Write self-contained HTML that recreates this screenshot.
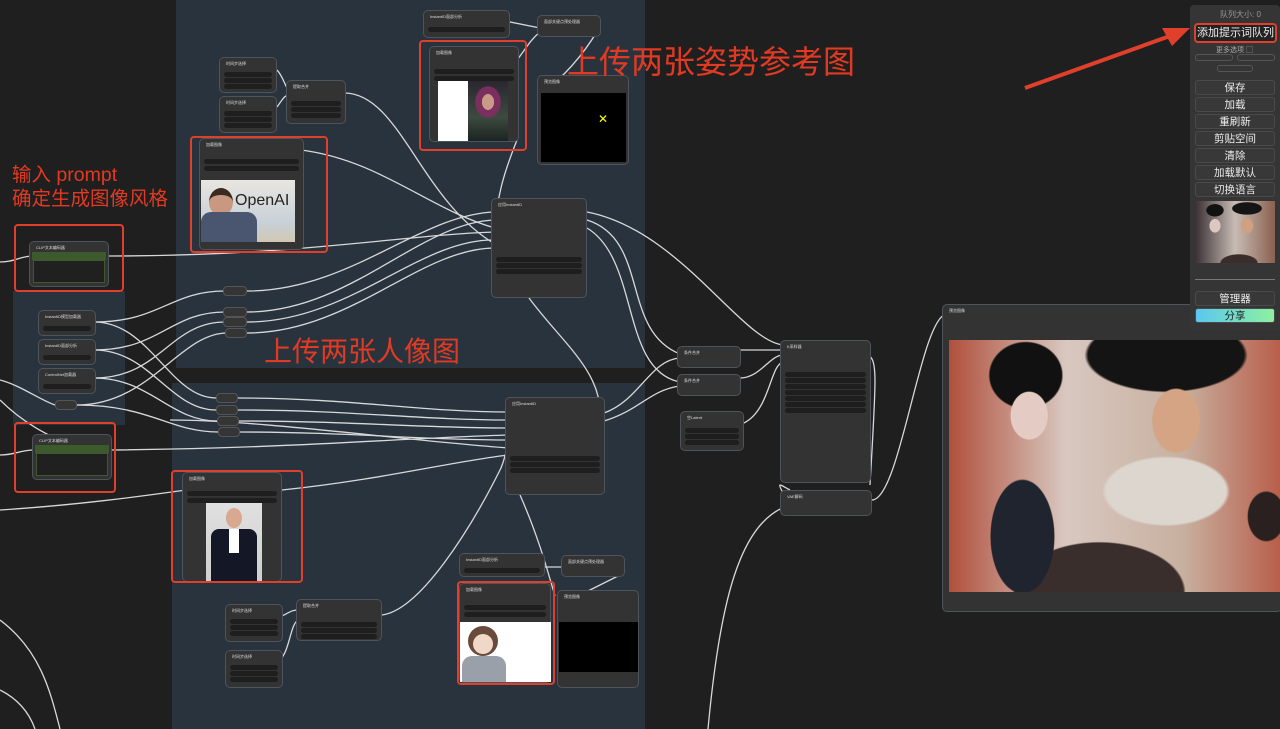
<!DOCTYPE html>
<html><head><meta charset="utf-8"><style>
*{box-sizing:border-box;margin:0;padding:0}
body{width:1280px;height:729px;overflow:hidden;background:#1f1f1f;position:relative;font-family:"Liberation Sans","Noto Sans CJK SC",sans-serif}
.g{position:absolute;background:#29333e}
.n{position:absolute;background:#333;border:1px solid #4e545a;border-radius:5px}
.n .t{font-size:4px;color:#ddd;padding:3px 6px;height:10px}
.w{position:absolute;left:4px;right:4px;height:5px;background:#1e1e1e;border-radius:3px}
.r{position:absolute;border:2.5px solid #e0402b;border-radius:4px}
.rr{position:absolute;background:#353535;border:1px solid #555;border-radius:4px;height:10px}
.lbl{position:absolute;color:#e23a22;white-space:nowrap}
.p{position:absolute;background:#383838;border:1px solid #4a4a4a;border-radius:3px;color:#eee;font-size:10.5px;text-align:center;height:15px;line-height:14px;left:5px;right:5px}
</style></head><body>
<div class="g" style="left:176px;top:0;width:469px;height:368px"></div>
<div class="g" style="left:172px;top:383px;width:473px;height:346px"></div>
<div class="g" style="left:13px;top:291px;width:112px;height:134px"></div>

<svg style="position:absolute;left:0;top:0" width="1280" height="729" fill="none" stroke="#d8d8d8" stroke-width="1.3">
<path d="M0,262 C15,262 20,256 33,256"/>
<path d="M108,256 C300,256 400,235 495,232"/>
<path d="M0,455 C15,455 20,450 34,450"/>
<path d="M112,450 C300,448 400,438 509,435"/>
<path d="M94,322 C160,322 170,291 225,291 M247,291 C350,291 420,214 495,212"/>
<path d="M94,350 C160,350 170,312 225,312 M247,312 C350,312 420,222 495,220"/>
<path d="M94,378 C160,378 170,322 225,322 M247,322 C350,322 420,238 495,240"/>
<path d="M77,405 C150,405 180,333 227,333 M247,333 C350,333 420,248 495,248"/>
<path d="M94,322 C150,322 170,398 216,398 M238,398 C350,398 420,412 509,412"/>
<path d="M94,350 C150,350 170,410 216,410 M238,410 C350,410 420,420 509,420"/>
<path d="M94,378 C150,378 170,421 217,421 M238,421 C350,421 420,428 509,428"/>
<path d="M77,405 C150,405 170,432 218,432 M238,432 C350,432 420,440 509,440"/>
<path d="M0,380 C20,385 40,400 55,405"/>
<path d="M301,150 C380,160 430,210 495,228"/>
<path d="M344,93 C400,93 420,200 495,244"/>
<path d="M517,140 C505,170 495,200 495,236"/>
<path d="M277,70 C282,75 285,85 287,88 M277,107 C282,100 285,95 287,96"/>
<path d="M505,21 C520,24 530,26 540,28 M517,60 C525,50 530,40 540,32"/>
<path d="M598,30 C580,60 560,80 540,95"/>
<path d="M587,212 C680,230 740,340 783,345"/>
<path d="M587,220 C650,240 620,330 680,354"/>
<path d="M587,228 C640,260 620,370 680,382"/>
<path d="M604,413 C640,400 650,360 680,358"/>
<path d="M604,421 C640,410 650,390 680,386"/>
<path d="M529,298 C560,340 600,370 600,412"/>
<path d="M740,350 L783,350 M740,378 C760,378 770,355 783,355"/>
<path d="M744,423 C770,410 770,365 783,362"/>
<path d="M868,355 C878,360 876,380 870,485 M784,495 C776,480 780,485 790,490"/>
<path d="M872,500 C900,500 920,320 946,314"/>
<path d="M790,505 C740,520 720,600 708,729"/>
<path d="M0,510 C80,505 150,495 186,490"/>
<path d="M282,490 C380,480 460,460 509,455"/>
<path d="M170,420 C260,420 400,440 509,448"/>
<path d="M382,615 C420,610 470,530 500,470 C505,460 505,450 509,450"/>
<path d="M520,495 C540,540 550,580 555,596 M543,567 L563,567 M620,575 C600,585 590,590 580,595"/>
<path d="M0,620 C40,650 50,690 60,729"/><path d="M0,400 C30,430 60,440 100,460"/>
<path d="M0,690 C20,700 30,715 35,729"/>
<path d="M280,617 C290,612 292,610 298,610 M280,660 C290,650 290,625 298,620"/>
</svg>

<!-- nodes -->
<div class="n" style="left:423px;top:10px;width:87px;height:28px"><div class="t">InstantID面部分析</div><div class="w" style="top:16px"></div></div>
<div class="n" style="left:537px;top:15px;width:64px;height:22px"><div class="t">面部关键点预处理器</div></div>
<div class="n" style="left:429px;top:46px;width:90px;height:96px"><div class="t">加载图像</div><div class="w" style="top:22px"></div><div class="w" style="top:29px"></div>
<div style="position:absolute;left:8px;top:34px;width:30px;height:60px;background:#fff"></div>
<div style="position:absolute;left:38px;top:34px;width:40px;height:60px;background:radial-gradient(ellipse 10px 13px at 50% 35%,#c99a86 60%,transparent 62%),radial-gradient(ellipse 18px 22px at 50% 35%,#7a2f5f 70%,transparent 72%),linear-gradient(#2a2630,#3d4a40 60%,#1c2422)"></div></div>
<div class="n" style="left:537px;top:75px;width:92px;height:90px"><div class="t">预览图像</div><div style="position:absolute;left:3px;top:17px;right:2px;bottom:2px;background:#000"></div><div style="position:absolute;left:60px;top:36px;color:#ff0;font-size:12px">✕</div></div>
<div class="n" style="left:219px;top:57px;width:58px;height:36px"><div class="t">时间步选择</div><div class="w" style="top:14px"></div><div class="w" style="top:20px"></div><div class="w" style="top:26px"></div></div>
<div class="n" style="left:219px;top:96px;width:58px;height:37px"><div class="t">时间步选择</div><div class="w" style="top:14px"></div><div class="w" style="top:20px"></div><div class="w" style="top:26px"></div></div>
<div class="n" style="left:286px;top:80px;width:60px;height:44px"><div class="t">提取合并</div><div class="w" style="top:20px"></div><div class="w" style="top:26px"></div><div class="w" style="top:32px"></div></div>
<div class="n" style="left:199px;top:138px;width:105px;height:112px"><div class="t">加载图像</div><div class="w" style="top:20px"></div><div class="w" style="top:27px"></div>
<div style="position:absolute;left:1px;top:41px;width:94px;height:62px;background:linear-gradient(#e8e6e0,#c8d0d8 70%,#d0c8b0);overflow:hidden"><div style="position:absolute;left:34px;top:12px;font-size:16px;color:#222">OpenAI</div><div style="position:absolute;left:8px;top:8px;width:24px;height:28px;border-radius:50%;background:#c89880;border-top:7px solid #3a2a20"></div><div style="position:absolute;left:0;top:32px;width:56px;height:30px;background:#4a5670;border-radius:10px 10px 0 0"></div></div></div>
<div class="n" style="left:491px;top:198px;width:96px;height:100px"><div class="t">应用InstantID</div><div class="w" style="top:58px"></div><div class="w" style="top:64px"></div><div class="w" style="top:70px"></div></div>
<div class="n" style="left:29px;top:241px;width:80px;height:46px"><div class="t">CLIP文本编码器</div><div style="position:absolute;left:2px;top:10px;right:2px;height:8px;background:#3c5a2c"></div><div style="position:absolute;left:3px;top:18px;right:3px;bottom:3px;background:#202020;border:1px solid #3d5a2e"></div></div>
<div class="n" style="left:32px;top:434px;width:80px;height:46px"><div class="t">CLIP文本编码器</div><div style="position:absolute;left:2px;top:10px;right:2px;height:8px;background:#3c5a2c"></div><div style="position:absolute;left:3px;top:18px;right:3px;bottom:3px;background:#202020;border:1px solid #3d5a2e"></div></div>
<div class="n" style="left:38px;top:310px;width:58px;height:26px"><div class="t">InstantID模型加载器</div><div class="w" style="top:15px"></div></div>
<div class="n" style="left:38px;top:339px;width:58px;height:26px"><div class="t">InstantID面部分析</div><div class="w" style="top:15px"></div></div>
<div class="n" style="left:38px;top:368px;width:58px;height:26px"><div class="t">ControlNet加载器</div><div class="w" style="top:15px"></div></div>
<div class="rr" style="left:55px;top:400px;width:22px"></div>
<div class="rr" style="left:223px;top:286px;width:24px"></div><div class="rr" style="left:223px;top:307px;width:24px"></div><div class="rr" style="left:223px;top:317px;width:24px"></div><div class="rr" style="left:225px;top:328px;width:22px"></div>
<div class="rr" style="left:216px;top:393px;width:22px"></div><div class="rr" style="left:216px;top:405px;width:22px"></div><div class="rr" style="left:217px;top:416px;width:22px"></div><div class="rr" style="left:218px;top:427px;width:22px"></div>
<div class="n" style="left:505px;top:397px;width:100px;height:98px"><div class="t">应用InstantID</div><div class="w" style="top:58px"></div><div class="w" style="top:64px"></div><div class="w" style="top:70px"></div></div>
<div class="n" style="left:677px;top:346px;width:64px;height:22px"><div class="t">条件合并</div></div>
<div class="n" style="left:677px;top:374px;width:64px;height:22px"><div class="t">条件合并</div></div>
<div class="n" style="left:680px;top:411px;width:64px;height:40px"><div class="t">空Latent</div><div class="w" style="top:16px"></div><div class="w" style="top:22px"></div><div class="w" style="top:28px"></div></div>
<div class="n" style="left:780px;top:340px;width:91px;height:143px"><div class="t">K采样器</div><div class="w" style="top:31px"></div><div class="w" style="top:37px"></div><div class="w" style="top:43px"></div><div class="w" style="top:49px"></div><div class="w" style="top:55px"></div><div class="w" style="top:61px"></div><div class="w" style="top:67px"></div></div>
<div class="n" style="left:780px;top:490px;width:92px;height:26px"><div class="t">VAE解码</div></div>
<div class="n" style="left:942px;top:304px;width:340px;height:308px"><div class="t">预览图像</div>
<div style="position:absolute;left:6px;top:35px;width:334px;height:252px;overflow:hidden;background:
radial-gradient(ellipse 28px 36px at 24% 30%,#e4ccc4 65%,transparent 68%),
radial-gradient(ellipse 55px 50px at 23% 14%,#111 65%,transparent 68%),
radial-gradient(ellipse 36px 48px at 68% 32%,#d4a484 65%,transparent 68%),
radial-gradient(ellipse 120px 55px at 65% 6%,#141414 65%,transparent 68%),
radial-gradient(ellipse 100px 55px at 65% 60%,#dcd6ce 60%,transparent 64%),
radial-gradient(ellipse 45px 80px at 22% 78%,#20242e 70%,transparent 72%),
radial-gradient(ellipse 120px 70px at 45% 100%,#3a2e2c 70%,transparent 72%),
radial-gradient(ellipse 30px 40px at 95% 70%,#2a2020 60%,transparent 64%),
linear-gradient(90deg,#b0503c,#d8c8c0 35%,#c8b0a0 70%,#b85c48)"></div></div>
<div class="n" style="left:182px;top:472px;width:100px;height:110px"><div class="t">加载图像</div><div class="w" style="top:18px"></div><div class="w" style="top:25px"></div>
<div style="position:absolute;left:23px;top:30px;width:56px;height:78px;background:linear-gradient(#e0e0e0,#cfcfcf)"><div style="position:absolute;left:20px;top:5px;width:16px;height:20px;border-radius:50%;background:#d8a890"></div><div style="position:absolute;left:5px;top:26px;width:46px;height:52px;background:#141826;border-radius:8px 8px 0 0"></div><div style="position:absolute;left:23px;top:26px;width:10px;height:24px;background:#fff"></div></div></div>
<div class="n" style="left:225px;top:604px;width:58px;height:38px"><div class="t">时间步选择</div><div class="w" style="top:14px"></div><div class="w" style="top:20px"></div><div class="w" style="top:26px"></div></div>
<div class="n" style="left:225px;top:650px;width:58px;height:38px"><div class="t">时间步选择</div><div class="w" style="top:14px"></div><div class="w" style="top:20px"></div><div class="w" style="top:26px"></div></div>
<div class="n" style="left:296px;top:599px;width:86px;height:42px"><div class="t">提取合并</div><div class="w" style="top:22px"></div><div class="w" style="top:28px"></div><div class="w" style="top:34px"></div></div>
<div class="n" style="left:459px;top:553px;width:86px;height:24px"><div class="t">InstantID面部分析</div><div class="w" style="top:14px"></div></div>
<div class="n" style="left:561px;top:555px;width:64px;height:22px"><div class="t">面部关键点预处理器</div></div>
<div class="n" style="left:459px;top:583px;width:92px;height:100px"><div class="t">加载图像</div><div class="w" style="top:21px"></div><div class="w" style="top:28px"></div>
<div style="position:absolute;left:0;top:38px;width:91px;height:60px;background:#fff"><div style="position:absolute;left:8px;top:4px;width:30px;height:30px;border-radius:50%;background:#6a4a3a"></div><div style="position:absolute;left:13px;top:12px;width:20px;height:20px;border-radius:50%;background:#f0d8c8"></div><div style="position:absolute;left:2px;top:34px;width:44px;height:26px;background:#9aa0aa;border-radius:10px 10px 0 0"></div></div></div>
<div class="n" style="left:557px;top:590px;width:82px;height:98px"><div class="t">预览图像</div><div style="position:absolute;left:1px;top:31px;width:79px;height:50px;background:#000"></div></div>

<!-- red boxes -->
<div class="r" style="left:419px;top:40px;width:108px;height:111px"></div>
<div class="r" style="left:190px;top:136px;width:138px;height:117px"></div>
<div class="r" style="left:14px;top:224px;width:110px;height:68px"></div>
<div class="r" style="left:14px;top:422px;width:102px;height:71px"></div>
<div class="r" style="left:171px;top:470px;width:132px;height:113px"></div>
<div class="r" style="left:457px;top:581px;width:98px;height:104px"></div>

<div class="lbl" style="left:567px;top:37px;font-size:32px">上传两张姿势参考图</div>
<div class="lbl" style="left:264px;top:330px;font-size:28px">上传两张人像图</div>
<div class="lbl" style="left:12px;top:163px;font-size:19.5px;line-height:24px">输入 prompt<br>确定生成图像风格</div>

<svg style="position:absolute;left:0;top:0" width="1280" height="729"><line x1="1025" y1="88" x2="1170" y2="36" stroke="#e0402b" stroke-width="4"/><polygon points="1190,28 1162,28 1172,46" fill="#e0402b"/></svg>

<!-- right panel -->
<div style="position:absolute;left:1190px;top:5px;width:90px;height:326px;background:#353535;border-radius:4px">
<div style="position:absolute;left:30px;top:4px;font-size:8px;color:#999">队列大小: 0</div>
<div style="position:absolute;left:4px;top:18px;right:3px;height:20px;background:#222;border:2px solid #e0402b;border-radius:4px;color:#eee;font-size:11px;text-align:center;line-height:16px">添加提示词队列</div>
<div style="position:absolute;left:26px;top:40px;font-size:7px;color:#aaa">更多选项 ▢</div>
<div style="position:absolute;left:5px;top:49px;width:38px;height:7px;border:1px solid #555;border-radius:3px"></div><div style="position:absolute;left:47px;top:49px;width:38px;height:7px;border:1px solid #555;border-radius:3px"></div><div style="position:absolute;left:27px;top:60px;width:36px;height:7px;border:1px solid #555;border-radius:3px"></div>
<div class="p" style="top:75px">保存</div><div class="p" style="top:92px">加载</div><div class="p" style="top:109px">重刷新</div><div class="p" style="top:126px">剪贴空间</div><div class="p" style="top:143px">清除</div><div class="p" style="top:160px">加载默认</div><div class="p" style="top:177px">切换语言</div>
<div style="position:absolute;left:5px;top:196px;width:80px;height:62px;background:radial-gradient(ellipse 9px 11px at 25% 40%,#ddc8c0 60%,transparent 64%),radial-gradient(ellipse 14px 10px at 25% 15%,#111 60%,transparent 64%),radial-gradient(ellipse 10px 12px at 65% 40%,#d0a080 60%,transparent 64%),radial-gradient(ellipse 24px 10px at 65% 12%,#151515 60%,transparent 64%),radial-gradient(ellipse 30px 14px at 55% 100%,#3a2e2c 60%,transparent 64%),linear-gradient(90deg,#3a3034,#c8bcb4 50%,#8a6050)"></div>
<div style="position:absolute;left:5px;top:274px;right:5px;height:1px;background:#777"></div>
<div class="p" style="top:286px">管理器</div>
<div class="p" style="top:303px;background:linear-gradient(90deg,#5ac8f0,#8ef0a0);color:#222">分享</div>
</div>
</body></html>
